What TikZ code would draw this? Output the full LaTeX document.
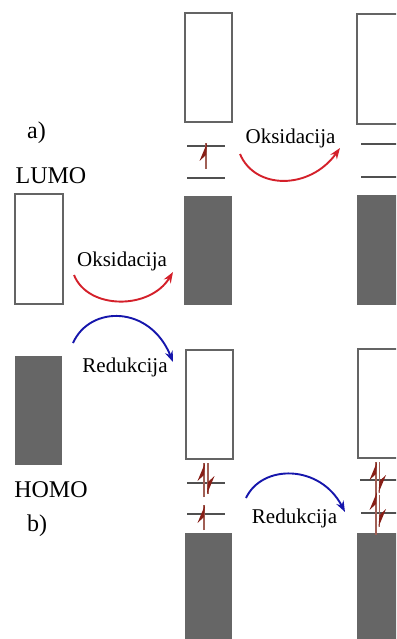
\documentclass[tikz,border=0pt]{standalone}
\usepackage{fontspec}
\setmainfont{Liberation Serif}
\usetikzlibrary{arrows.meta}
\definecolor{bandgray}{RGB}{102,102,102}
\definecolor{edgegray}{RGB}{100,100,100}
\definecolor{levelgray}{RGB}{80,80,80}
\definecolor{oxred}{RGB}{212,32,42}
\definecolor{redblue}{RGB}{22,22,172}
\definecolor{eheadcol}{RGB}{135,30,22}
\definecolor{elinecol}{RGB}{160,95,85}
\tikzset{
  emptyband/.style={draw=edgegray,line width=1.8pt,fill=white,inner sep=0pt,anchor=north west},
  fullband/.style={draw=none,fill=bandgray,inner sep=0pt,anchor=north west},
  level/.style={draw=levelgray,line width=1.5pt},
  lbl/.style={font=\fontsize{21}{25}\selectfont,anchor=base,inner sep=0pt},
  biglbl/.style={font=\fontsize{24}{28}\selectfont,anchor=base,inner sep=0pt},
  oxarrow/.style={draw=oxred,line width=1.9pt,-{Stealth[length=11pt,width=8pt]}},
  redarrow/.style={draw=redblue,line width=1.9pt,-{Stealth[length=11pt,width=8pt]}},
  eline/.style={draw=elinecol,line width=1.1pt},
  ehead/.style={fill=eheadcol}
}
\newcommand\eup[3]{%
  \draw[eline] (#1,#2) -- (#1,#3);
  \fill[ehead] (#1+1,#3) -- (#1-6.5,#3+18) -- (#1,#3+12) -- cycle;}
\newcommand\edown[3]{%
  \draw[eline] (#1,#2) -- (#1,#3);
  \fill[ehead] (#1-1,#3) -- (#1+6.5,#3-18) -- (#1,#3-12) -- cycle;}
\begin{document}
\begin{tikzpicture}[x=1pt,y=-1pt]
\useasboundingbox (0,0) rectangle (396,639);
\clip (0,0) rectangle (396,639);
\fill[white] (0,0) rectangle (396,639);
% left column
\node[emptyband,minimum width=48pt,minimum height=110pt] (lumoL) at (14,193) {};
\node[fullband,minimum width=47pt,minimum height=109pt] (homoL) at (15,356) {};
% middle column
\node[emptyband,minimum width=47pt,minimum height=109pt] (mTop) at (184,12) {};
\node[fullband,minimum width=48pt,minimum height=109pt] (mGrayA) at (184,196) {};
\node[emptyband,minimum width=47pt,minimum height=109pt] (mEmptyB) at (185,349) {};
\node[fullband,minimum width=47pt,minimum height=112pt] (mGrayB) at (185,533) {};
% right column
\node[emptyband,minimum width=46pt,minimum height=110pt] (rTop) at (356,13) {};
\node[fullband,minimum width=45pt,minimum height=110pt] (rGrayA) at (357,195) {};
\node[emptyband,minimum width=45pt,minimum height=109pt] (rEmptyB) at (357,348) {};
\node[fullband,minimum width=45pt,minimum height=112pt] (rGrayB) at (357,533) {};
% levels
\draw[level] (187,146) -- (225,146);
\draw[level] (187,178) -- (225,178);
\draw[level] (361,144) -- (400,144);
\draw[level] (361,177) -- (400,177);
\draw[level] (187,483) -- (225,483);
\draw[level] (187,514) -- (225,514);
\draw[level] (360,480) -- (400,480);
\draw[level] (361,513) -- (400,513);
% electrons
\eup{206}{169}{143}
\eup{204}{497}{463}
\edown{208}{463}{494}
\eup{204}{530}{505}
\eup{376}{500}{462}
\edown{379.5}{462}{493}
\eup{376}{535}{492}
\edown{379.5}{495}{527}
% labels
\node[biglbl] (a) at (36.5,139) {a)};
\node[biglbl] (lumo) at (51,183) {LUMO};
\node[biglbl] (homo) at (51,497) {HOMO};
\node[biglbl] (b) at (37,531) {b)};
\node[lbl] (oksL) at (122,266) {Oksidacija};
\node[lbl] (redL) at (125,372) {Redukcija};
\node[lbl] (oksR) at (290.5,144) {Oksidacija};
\node[lbl] (redR) at (294.5,523) {Redukcija};
% arrow end points
\coordinate (o1s) at (74,275); \coordinate (o1e) at (173,272);
\coordinate (r1s) at (73,343); \coordinate (r1e) at (173,362);
\coordinate (o2s) at (240,154); \coordinate (o2e) at (340,148);
\coordinate (r2s) at (246,498); \coordinate (r2e) at (345,512);
\draw[oxarrow] (o1s) .. controls (88,310) and (150,310) .. (o1e);
\draw[redarrow] (r1s) .. controls (90,305) and (150,305) .. (r1e);
\draw[oxarrow] (o2s) .. controls (255,190) and (310,190) .. (o2e);
\draw[redarrow] (r2s) .. controls (262,464) and (320,464) .. (r2e);
\end{tikzpicture}
\end{document}
